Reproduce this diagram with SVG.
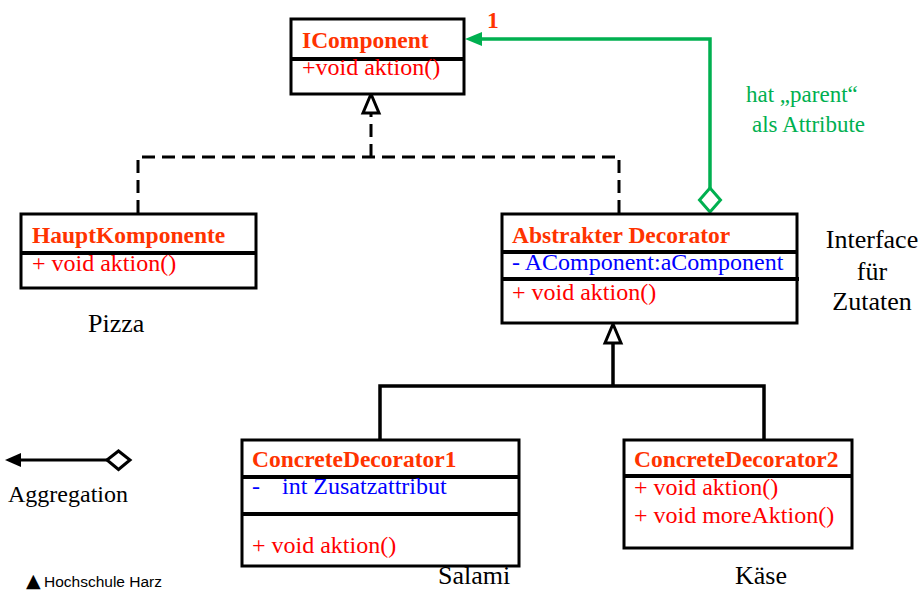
<svg xmlns="http://www.w3.org/2000/svg" width="921" height="590" viewBox="0 0 921 590">
<style>
.box{fill:#fff;stroke:#000;stroke-width:3}
.sep{stroke:#000;stroke-width:4}
.t{font-family:"Liberation Serif","Times New Roman",serif;font-size:23.5px;font-weight:bold;fill:#FF3300}
.m{font-family:"Liberation Serif","Times New Roman",serif;font-size:24px;fill:#FF0000}
.a{font-family:"Liberation Serif","Times New Roman",serif;font-size:24px;fill:#0000FF}
.lbl{font-family:"Liberation Serif","Times New Roman",serif;font-size:26px;fill:#000}
.g{font-family:"Liberation Serif","Times New Roman",serif;font-size:23px;fill:#00B050}
.dash{fill:none;stroke:#000;stroke-width:3;stroke-dasharray:13 7}
.solid{fill:none;stroke:#000;stroke-width:3.5}
.green{fill:none;stroke:#00B050;stroke-width:3.5}
</style>
<g id="connectors">
  <path class="dash" d="M138,213 V157 H619 V213"/>
  <path class="dash" d="M371,157 V113"/>
  <polygon points="371,94 379,113 363,113" fill="#fff" stroke="#000" stroke-width="3"/>
  <path class="solid" d="M380,440 V386 H764 V440"/>
  <path class="solid" d="M613,386 V343"/>
  <polygon points="613,324 621,343 605,343" fill="#fff" stroke="#000" stroke-width="3"/>
  <path class="green" d="M710,188 V39 H480"/>
  <polygon points="465,39 482,32 482,46" fill="#00B050"/>
  <polygon points="710,188 720.5,200 710,212 699.5,200" fill="#fff" stroke="#00B050" stroke-width="3"/>
  <text x="487" y="28" class="t" font-size="23">1</text>
  <text x="746" y="102" class="g">hat „parent“</text>
  <text x="752" y="132" class="g">als Attribute</text>
</g>
<g id="IComponent">
  <rect class="box" x="291" y="19" width="173" height="75"/>
  <line class="sep" x1="291" y1="59" x2="464" y2="59"/>
  <text x="302" y="48" class="t">IComponent</text>
  <text x="302" y="75" class="m">+void aktion()</text>
</g>
<g id="HauptKomponente">
  <rect class="box" x="21" y="214" width="235" height="74"/>
  <line class="sep" x1="21" y1="253" x2="256" y2="253"/>
  <text x="32" y="243" class="t">HauptKomponente</text>
  <text x="32" y="271" class="m">+ void aktion()</text>
  <text x="88" y="332" class="lbl">Pizza</text>
</g>
<g id="AbstrakterDecorator">
  <rect class="box" x="502" y="214" width="295" height="109"/>
  <line class="sep" x1="502" y1="252" x2="797" y2="252"/>
  <line class="sep" x1="502" y1="279" x2="799" y2="279"/>
  <text x="512" y="243" class="t">Abstrakter Decorator</text>
  <text x="512" y="270" class="a">- AComponent:aComponent</text>
  <text x="512" y="300" class="m">+ void aktion()</text>
  <text x="872" y="248" class="lbl" text-anchor="middle">Interface</text>
  <text x="872" y="280" class="lbl" text-anchor="middle">für</text>
  <text x="872" y="310" class="lbl" text-anchor="middle">Zutaten</text>
</g>
<g id="ConcreteDecorator1">
  <rect class="box" x="242" y="440" width="277" height="126"/>
  <line class="sep" x1="242" y1="477" x2="519" y2="477"/>
  <line class="sep" x1="242" y1="514" x2="519" y2="514"/>
  <text x="252" y="467" class="t">ConcreteDecorator1</text>
  <text y="494" class="a"><tspan x="252">-</tspan><tspan x="282">int Zusatzattribut</tspan></text>
  <text x="252" y="553" class="m">+ void aktion()</text>
  <text x="438" y="584" class="lbl">Salami</text>
</g>
<g id="ConcreteDecorator2">
  <rect class="box" x="624" y="440" width="228" height="108"/>
  <line class="sep" x1="624" y1="476" x2="852" y2="476"/>
  <text x="634" y="467" class="t">ConcreteDecorator2</text>
  <text x="634" y="495" class="m">+ void aktion()</text>
  <text x="634" y="523" class="m">+ void moreAktion()</text>
  <text x="735" y="584" class="lbl">Käse</text>
</g>
<g id="legend">
  <line x1="18" y1="460" x2="108" y2="460" stroke="#000" stroke-width="3"/>
  <polygon points="5,460 21,453 21,467" fill="#000"/>
  <polygon points="107,460 118.5,451 130,460 118.5,469.5" fill="#fff" stroke="#000" stroke-width="3"/>
  <text x="8" y="502" font-family="Liberation Serif,serif" font-size="24" fill="#000">Aggregation</text>
  <text y="587" font-family="Liberation Sans,Arial,sans-serif" font-size="15.5" fill="#000"><tspan x="26" font-family="DejaVu Sans,sans-serif" font-size="19">▲</tspan><tspan x="44">Hochschule Harz</tspan></text>
</g>
</svg>
